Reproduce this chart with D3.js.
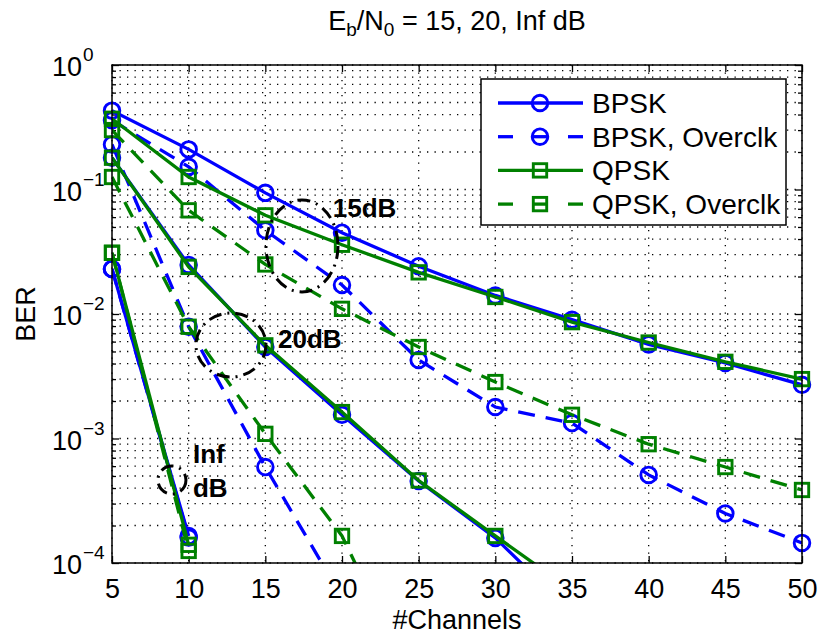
<!DOCTYPE html>
<html><head><meta charset="utf-8">
<script src="https://cdn.jsdelivr.net/npm/d3@7"></script>
<style>
body{margin:0;background:#fff}
text{font-family:"Liberation Sans",Arial,sans-serif;fill:#000}
</style>
</head><body>
<svg id="c" width="819" height="640"></svg>
<script>
// ---------------- data ----------------
const channels = [5,10,15,20,25,30,35,40,45,50];
const yTickExps = [0,-1,-2,-3,-4];
const xTickLabels = ["5","10","15","20","25","30","35","40","45","50"];

const bpsk15   = [0.43, 0.21, 0.094, 0.045, 0.0242, 0.0141, 0.0090, 0.0057, 0.00404, 0.0027];
const bpskOc15 = [0.36, 0.152, 0.047, 0.0171, 0.00427, 0.00179, 0.00133, 0.00051, 0.00025, 0.000145];
const qpsk15   = [0.37, 0.126, 0.062, 0.036, 0.0216, 0.0137, 0.0086, 0.0059, 0.00413, 0.0030];
const qpskOc15 = [0.30, 0.068, 0.025, 0.011, 0.00543, 0.00284, 0.00155, 0.00090, 0.00059, 0.000386];

const bpsk20   = [0.18, 0.0248, 0.00543, 0.00155, 0.000456, 0.000159, 0.00004];
const bpskOc20 = [0.23, 0.0079, 0.00059, 0.000053];
const qpsk20   = [0.18, 0.0239, 0.0056, 0.00163, 0.00046, 0.000165, 0.00006];
const qpskOc20 = [0.126, 0.0079, 0.00109, 0.000165, 0.0000087];

const bpskInf   = [0.023, 0.000165];
const bpskOcInf = [0.023, 0.00016];
const qpskInf   = [0.031, 0.00014];
const qpskOcInf = [0.031, 0.000125];

const legendLabels = ["BPSK","BPSK, Overclk","QPSK","QPSK, Overclk"];
const annotations = [
  {lines:["15dB"], cx:17.39, cy:0.0352, rx:36, ry:46, tx:19.4, ty:0.060},
  {lines:["20dB"], cx:12.76, cy:0.00564, rx:35, ry:32, tx:15.83, ty:0.00533},
  {lines:["Inf","dB"], cx:8.91, cy:0.000464, rx:14, ry:14, tx:10.28, ty:0.000635}
];

const BLUE = "#0000ff", GREEN = "#008000";
const series = [
  {v:bpsk15, c:BLUE, dash:false, m:"o"},
  {v:bpsk20, c:BLUE, dash:false, m:"o"},
  {v:bpskInf, c:BLUE, dash:false, m:"o"},
  {v:bpskOc15, c:BLUE, dash:true, m:"o"},
  {v:bpskOc20, c:BLUE, dash:true, m:"o"},
  {v:bpskOcInf, c:BLUE, dash:true, m:"o"},
  {v:qpsk15, c:GREEN, dash:false, m:"s"},
  {v:qpsk20, c:GREEN, dash:false, m:"s"},
  {v:qpskInf, c:GREEN, dash:false, m:"s"},
  {v:qpskOc15, c:GREEN, dash:true, m:"s"},
  {v:qpskOc20, c:GREEN, dash:true, m:"s"},
  {v:qpskOcInf, c:GREEN, dash:true, m:"s"}
];
const legendStyles = [
  {c:BLUE, dash:false, m:"o"},{c:BLUE, dash:true, m:"o"},
  {c:GREEN, dash:false, m:"s"},{c:GREEN, dash:true, m:"s"}
];

// ---------------- layout ----------------
const L = 112, R = 802, T = 65, B = 563;
const svg = d3.select("#c");
svg.append("rect").attr("width",819).attr("height",640).attr("fill","#fff");
const x = d3.scaleLinear().domain([5,50]).range([L,R]);
const y = d3.scaleLog().domain([1e-4,1]).range([B,T]);

const majorY = yTickExps.map(e => Math.pow(10,e));
const minorY = [];
for (let e=-4; e<0; e++) for (let k=2; k<=9; k++) minorY.push(k*Math.pow(10,e));

// grid
const grid = svg.append("g").attr("stroke","#000").attr("stroke-width",1.3)
  .attr("stroke-dasharray","1.3,6.2");
grid.selectAll("line.h").data(majorY.concat(minorY)).join("line")
  .attr("x1",L).attr("x2",R).attr("y1",d=>y(d)).attr("y2",d=>y(d));
grid.selectAll("line.v").data(channels).join("line")
  .attr("y1",T).attr("y2",B).attr("x1",d=>x(d)).attr("x2",d=>x(d));

// axes (inward ticks)
function styleAxis(g){ g.select(".domain").remove(); g.selectAll("line").attr("stroke","#000").attr("stroke-width",1.3); }
svg.append("g").attr("transform",`translate(0,${B})`)
  .call(d3.axisBottom(x).tickValues(channels).tickSizeInner(-7).tickSizeOuter(0).tickPadding(16)
    .tickFormat((d,i)=>xTickLabels[i]))
  .call(styleAxis)
  .call(g=>g.selectAll("text").attr("font-size",27).attr("font-family","Liberation Sans, Arial").attr("fill","#000"));
svg.append("g").attr("transform",`translate(0,${T})`)
  .call(d3.axisTop(x).tickValues(channels).tickSizeInner(-7).tickSizeOuter(0).tickFormat(""))
  .call(styleAxis);
svg.append("g").attr("transform",`translate(${L},0)`)
  .call(d3.axisLeft(y).tickValues(majorY).tickSizeInner(-7).tickSizeOuter(0).tickFormat(""))
  .call(styleAxis);
svg.append("g").attr("transform",`translate(${L},0)`)
  .call(d3.axisLeft(y).tickValues(minorY).tickSizeInner(-4).tickSizeOuter(0).tickFormat(""))
  .call(styleAxis);
svg.append("g").attr("transform",`translate(${R},0)`)
  .call(d3.axisRight(y).tickValues(majorY).tickSizeInner(-7).tickSizeOuter(0).tickFormat(""))
  .call(styleAxis);
svg.append("g").attr("transform",`translate(${R},0)`)
  .call(d3.axisRight(y).tickValues(minorY).tickSizeInner(-4).tickSizeOuter(0).tickFormat(""))
  .call(styleAxis);

// y tick labels 10^e
const yl = svg.append("g");
yTickExps.forEach(e=>{
  const yy = y(Math.pow(10,e));
  yl.append("text").attr("x",82).attr("y",yy+11).attr("text-anchor","end").attr("font-size",27).text("10");
  yl.append("text").attr("x",83).attr("y",yy-4).attr("font-size",19).text(e===0?"0":"\u2212"+(-e));
});

// clip
svg.append("clipPath").attr("id","clip").append("rect")
  .attr("x",L).attr("y",T).attr("width",R-L).attr("height",B-T);

const plot = svg.append("g").attr("clip-path","url(#clip)");
const marks = svg.append("g");
const line = d3.line().x(d=>x(d[0])).y(d=>y(d[1]));
function marker(g, m, c, px, py){
  if (m==="o") g.append("circle").attr("cx",px).attr("cy",py).attr("r",7.8)
      .attr("fill","none").attr("stroke",c).attr("stroke-width",2.9);
  else g.append("rect").attr("x",px-6.7).attr("y",py-6.7).attr("width",13.4).attr("height",13.4)
      .attr("fill","none").attr("stroke",c).attr("stroke-width",2.9);
}
series.forEach(s=>{
  const pts = s.v.map((v,i)=>[channels[i],v]);
  const gg = svg.append("g");
  gg.append("path").attr("d",line(pts)).attr("fill","none").attr("stroke",s.c)
    .attr("clip-path","url(#clip)")
    .attr("stroke-width",3.3).attr("stroke-dasharray",s.dash?"17,11":null);
  pts.filter(p=>p[1]>=1e-4*0.98 && p[1]<=1).forEach(p=>marker(gg,s.m,s.c,x(p[0]),y(p[1])));
});

// annotations
annotations.forEach(a=>{
  svg.append("ellipse").attr("cx",x(a.cx)).attr("cy",y(a.cy)).attr("rx",a.rx).attr("ry",a.ry)
    .attr("fill","none").attr("stroke","#000").attr("stroke-width",3)
    .attr("stroke-dasharray","13,6,2,6");
  a.lines.forEach((t,i)=>{
    svg.append("text").attr("x",x(a.tx)).attr("y",y(a.ty)+i*34).attr("font-size",26)
      .attr("font-weight","bold").text(t);
  });
});

// box
svg.append("rect").attr("x",L).attr("y",T).attr("width",R-L).attr("height",B-T)
  .attr("fill","none").attr("stroke","#000").attr("stroke-width",1.5);

// legend
const lg = svg.append("g");
lg.append("rect").attr("x",481).attr("y",79).attr("width",305).attr("height",146)
  .attr("fill","#fff").attr("stroke","#000").attr("stroke-width",1.5);
legendStyles.forEach((s,i)=>{
  const yy = 103 + i*33.7;
  if (s.dash){
    [[498,513],[533,547],[568,583]].forEach(seg=>lg.append("line").attr("x1",seg[0]).attr("x2",seg[1])
      .attr("y1",yy).attr("y2",yy).attr("stroke",s.c).attr("stroke-width",3.3));
  } else {
    lg.append("line").attr("x1",498).attr("x2",583).attr("y1",yy).attr("y2",yy)
      .attr("stroke",s.c).attr("stroke-width",3.3);
  }
  marker(lg, s.m, s.c, 540, yy);
  lg.append("text").attr("x",592).attr("y",yy+10).attr("font-size",28).text(legendLabels[i]);
});

// labels
const title = svg.append("text").attr("x",457).attr("y",30).attr("text-anchor","middle").attr("font-size",27);
title.append("tspan").text("E");
title.append("tspan").attr("font-size",19).attr("dy",6).text("b");
title.append("tspan").attr("dy",-6).text("/N");
title.append("tspan").attr("font-size",19).attr("dy",6).text("0");
title.append("tspan").attr("dy",-6).text(" = 15, 20, Inf dB");

svg.append("text").attr("x",457).attr("y",629).attr("text-anchor","middle").attr("font-size",27).text("#Channels");
svg.append("text").attr("transform","translate(35,314) rotate(-90)").attr("text-anchor","middle")
  .attr("font-size",27).text("BER");
</script>
</body></html>
